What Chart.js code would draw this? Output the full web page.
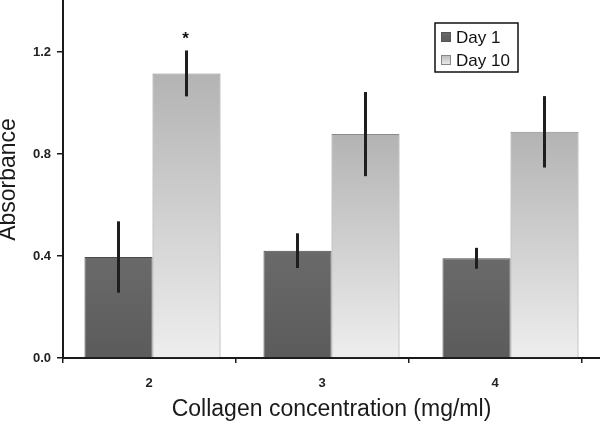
<!DOCTYPE html>
<html>
<head>
<meta charset="utf-8">
<script src="https://cdn.jsdelivr.net/npm/chart.js@4/dist/chart.umd.min.js"></script>
<style>
  html, body { margin: 0; padding: 0; background: #fff; }
  #wrap { width: 600px; height: 423px; }
</style>
</head>
<body>
<div id="wrap"><canvas id="absorbance-chart"></canvas></div>
<script>
// Data
var concentrations = ["2", "3", "4"];
var day1 = [0.396, 0.421, 0.391];
var day1Err = [0.14, 0.068, 0.041];
var day10 = [1.116, 0.878, 0.887];
var day10Err = [0.09, 0.165, 0.14];
var day10Marks = ["*", "", ""];
var yTicks = [0.0, 0.4, 0.8, 1.2];
var xTickMarks = [0, 1, 2, 3];

var FONT = "'Liberation Sans', Arial, sans-serif";

// vertical gradient for each bar, from its top down to zero
function barGradient(topColor, bottomColor) {
    return function(context) {
        var chart = context.chart;
        var y = chart.scales.y;
        if (!chart.chartArea || !y || context.parsed === undefined) return topColor;
        var top = y.getPixelForValue(context.parsed.y);
        var base = y.getPixelForValue(0);
        if (!isFinite(top) || !isFinite(base) || top === base) return topColor;
        var g = chart.ctx.createLinearGradient(0, top, 0, base);
        g.addColorStop(0, topColor);
        g.addColorStop(1, bottomColor);
        return g;
    };
}

// error bars + significance star
var errorBars = {
    id: "errorBars",
    afterDatasetsDraw: function(chart) {
        var ctx = chart.ctx;
        var y = chart.scales.y;
        chart.data.datasets.forEach(function(ds, di) {
            var meta = chart.getDatasetMeta(di);
            meta.data.forEach(function(bar, i) {
                var v = ds.data[i], e = ds.errors[i];
                var yt = y.getPixelForValue(v + e);
                var yb = y.getPixelForValue(v - e);
                ctx.save();
                ctx.strokeStyle = "#1e1e1e";
                ctx.lineWidth = 3;
                ctx.beginPath();
                ctx.moveTo(bar.x, yt);
                ctx.lineTo(bar.x, yb);
                ctx.stroke();
                if (ds.marks && ds.marks[i]) {
                    ctx.fillStyle = "#111";
                    ctx.font = "bold 17px " + FONT;
                    ctx.textAlign = "center";
                    ctx.textBaseline = "middle";
                    ctx.fillText(ds.marks[i], bar.x - 1, yt - 11);
                }
                ctx.restore();
            });
        });
    }
};

// boxed legend in the top right corner
var boxLegend = {
    id: "boxLegend",
    afterDraw: function(chart) {
        var ctx = chart.ctx;
        var x0 = 435, y0 = 23, w = 83, h = 49;
        ctx.save();
        ctx.fillStyle = "#fff";
        ctx.fillRect(x0, y0, w, h);
        ctx.strokeStyle = "#111";
        ctx.lineWidth = 1.5;
        ctx.strokeRect(x0, y0, w, h);
        var swatches = [["#555", "#6a6a6a", "#5c5c5c"], ["#888", "#b8b8b8", "#eeeeee"]];
        chart.data.datasets.forEach(function(ds, i) {
            var cy = y0 + 14 + i * 23;
            var g = ctx.createLinearGradient(0, cy - 5, 0, cy + 5);
            g.addColorStop(0, swatches[i][1]);
            g.addColorStop(1, swatches[i][2]);
            ctx.fillStyle = g;
            ctx.fillRect(x0 + 6, cy - 5, 10, 10);
            ctx.strokeStyle = swatches[i][0];
            ctx.lineWidth = 1;
            ctx.strokeRect(x0 + 6.5, cy - 4.5, 9, 9);
            ctx.fillStyle = "#111";
            ctx.font = "17px " + FONT;
            ctx.textAlign = "left";
            ctx.textBaseline = "middle";
            ctx.fillText(ds.label, x0 + 21, cy + 1);
        });
        ctx.restore();
    }
};

var ctx = document.getElementById("absorbance-chart");

var chartData = {
    labels: concentrations,
    datasets: [{
        label: "Day 1",
        data: day1,
        errors: day1Err,
        backgroundColor: barGradient("#6a6a6a", "#5b5b5b"),
        borderColor: "#4a4a4a",
        borderWidth: 1,
        categoryPercentage: 0.76,
        barPercentage: 1.0
    }, {
        label: "Day 10",
        data: day10,
        errors: day10Err,
        marks: day10Marks,
        backgroundColor: barGradient("#b3b3b3", "#eeeeee"),
        borderColor: "#8a8a8a",
        borderWidth: 1,
        categoryPercentage: 0.76,
        barPercentage: 1.0
    }]
};

var config = {
    type: "bar",
    data: chartData,
    plugins: [errorBars, boxLegend],
    options: {
        responsive: true,
        maintainAspectRatio: false,
        animation: false,
        layout: { padding: { top: 1, right: 0, left: 0, bottom: 0 } },
        plugins: {
            legend: { display: false },
            tooltip: { enabled: false }
        },
        scales: {
            // bars sit on this one (hidden)
            x: {
                display: false,
                offset: true
            },
            // visible axis: tick marks between groups, labels centred
            x2: {
                type: "linear",
                position: "bottom",
                bounds: "data",
                offset: false,
                min: 0,
                max: 3.104,
                afterBuildTicks: function(scale) {
                    scale.ticks = xTickMarks.map(function(v) { return { value: v }; });
                },
                afterFit: function(scale) {
                    scale.height = 65;
                    scale.paddingLeft = 0;
                    scale.paddingRight = 0;
                },
                border: { display: true, color: "#1a1a1a", width: 2 },
                grid: { offset: false, drawOnChartArea: false, tickLength: 5, color: "#1a1a1a", lineWidth: 1.5 },
                ticks: {
                    autoSkip: false,
                    maxRotation: 0,
                    labelOffset: 86,
                    padding: 13,
                    color: "#222",
                    font: { family: FONT, size: 13, weight: "bold" },
                    callback: function(v, i) { return concentrations[i] !== undefined ? concentrations[i] : ""; }
                },
                title: {
                    display: true,
                    text: "Collagen concentration (mg/ml)",
                    color: "#1a1a1a",
                    font: { family: FONT, size: 23, lineHeight: 1.1 },
                    padding: { top: 0, bottom: 1 }
                }
            },
            y: {
                min: 0,
                max: 1.4,
                afterBuildTicks: function(scale) {
                    scale.ticks = yTicks.map(function(v) { return { value: v }; });
                },
                afterFit: function(scale) {
                    scale.width = 63;
                    scale.paddingTop = 0;
                    scale.paddingBottom = 0;
                },
                border: { display: true, color: "#1a1a1a", width: 2 },
                grid: { drawOnChartArea: false, tickLength: 6, color: "#1a1a1a", lineWidth: 1.5 },
                ticks: {
                    padding: 6,
                    color: "#222",
                    font: { family: FONT, size: 13, weight: "bold" },
                    callback: function(v) { return v.toFixed(1); }
                },
                title: {
                    display: true,
                    text: "Absorbance",
                    color: "#1a1a1a",
                    font: { family: FONT, size: 23, lineHeight: 0.75 },
                    padding: { top: 0, bottom: 0 }
                }
            }
        }
    }
};

var absorbanceChart = new Chart(ctx, config);
</script>
</body>
</html>
